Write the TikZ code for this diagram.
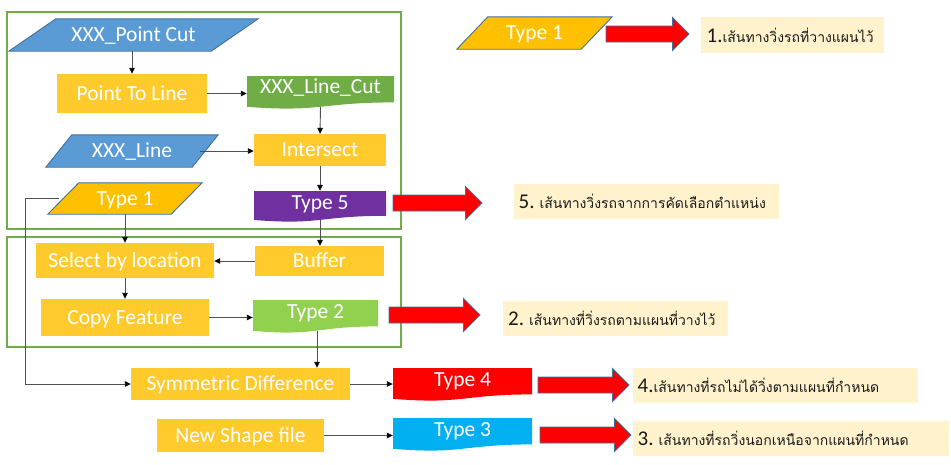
\documentclass[tikz,border=0pt]{standalone}
\usepackage{fontspec}
\setmainfont{Carlito}
\newfontfamily\thaifont[Script=Thai]{Loma}
\usetikzlibrary{calc,arrows.meta,backgrounds}

\definecolor{frameGreen}{HTML}{70AD47}
\definecolor{inBlue}{HTML}{5B9BD5}
\definecolor{edgeBlue}{HTML}{41719C}
\definecolor{procGold}{HTML}{FFCA2C}
\definecolor{typeGold}{HTML}{FFC000}
\definecolor{cutGreen}{HTML}{70AD47}
\definecolor{lightGreen}{HTML}{92D050}
\definecolor{typePurple}{HTML}{7030A0}
\definecolor{typeRed}{HTML}{FF0000}
\definecolor{typeCyan}{HTML}{00B0F0}
\definecolor{noteFill}{HTML}{FFF2CC}
\definecolor{noteText}{HTML}{1A1A1A}
\definecolor{wireGray}{HTML}{505050}

\tikzset{
  lbl/.style={inner sep=0pt, text=white, font=\fontsize{21.5}{24}\selectfont,
              text height=13.8pt, text depth=0pt},
  procbox/.style={lbl, fill=procGold},
  % flow-chart "document" shape: wavy lower edge, text raised by #2
  docbox/.style 2 args={lbl, text depth=#2,
    path picture={
      \fill[#1] let \p1=(path picture bounding box.south west),
                    \p2=(path picture bounding box.north east),
                    \n1={\y2-\y1}, \n2={(\x1+\x2)/2} in
        (\x1,\y2) -- (\x2,\y2) -- (\x2,{\y2-0.8*\n1})
        .. controls (\n2,{\y2-0.8*\n1}) and (\n2,{\y2-1.107*\n1}) ..
        (\x1,{\y2-0.934*\n1}) -- cycle;
    }},
  wire/.style={draw=wireGray, line width=0.9pt,
               -{Triangle[length=6pt,width=5.5pt,color=black,fill=black]}},
  notebox/.style={fill=noteFill, inner xsep=0pt, inner ysep=0pt, anchor=west,
                  align=left, text=noteText},
  frame/.style={draw=frameGreen, line width=2.8pt},
  bigarrow/.style={fill=typeRed, draw=edgeBlue, line width=0.9pt},
  paraedge/.style={draw=edgeBlue, line width=0.9pt}
}

% parallelogram behind a node: #1 style, #2 node name, #3 slant
\newcommand\paragram[3]{%
  \path[#1] (#2.south west) -- ($(#2.north west)+(#3,0)$) -- (#2.north east)
        -- ($(#2.south east)-(#3,0)$) -- cycle;}

% block arrow between two named coordinates on one horizontal line
\newcommand\blockarrow[2]{%
  \path[bigarrow] ($(#1)+(0,-8)$) -- ($(#2)+(-16.5,-8)$) -- ($(#2)+(-16.5,-16.5)$)
     -- (#2) -- ($(#2)+(-16.5,16.5)$) -- ($(#2)+(-16.5,8)$) -- ($(#1)+(0,8)$) -- cycle;}

\newcommand\notetext[2]{{\fontsize{21}{22}\selectfont #1}{\thaifont\fontsize{14}{22}\selectfont #2}}

\begin{document}
\begin{tikzpicture}[x=1pt, y=-1pt]
\useasboundingbox (0,0) rectangle (951,464);

% ---- process steps and data sets ----
\node[lbl, minimum width=249, minimum height=32] (pcut)  at (133.5,35)  {XXX\_Point Cut};
\node[procbox, minimum width=150, minimum height=39] (p2l) at (132,93.5) {Point To Line};
\node[docbox={cutGreen}{11pt}, minimum width=147, minimum height=33] (lcut) at (320.5,92.5) {XXX\_Line\_Cut};
\node[lbl, minimum width=172, minimum height=32] (xline) at (132,151) {XXX\_Line};
\node[procbox, minimum width=132, minimum height=32] (inter) at (320,150) {Intersect};
\node[lbl, minimum width=154, minimum height=31] (typeA) at (125,198.5) {Type 1};
\node[docbox={typePurple}{7pt}, minimum width=132, minimum height=31] (type5) at (320,206.5) {Type 5};
\node[procbox, minimum width=178, minimum height=35] (sel)  at (125,260.5) {Select by location};
\node[procbox, minimum width=129, minimum height=30] (buf)  at (319.5,261) {Buffer};
\node[procbox, minimum width=168, minimum height=37] (copy) at (125,317.5) {Copy Feature};
\node[docbox={lightGreen}{9pt}, minimum width=125, minimum height=33] (type2) at (315.5,316.5) {Type 2};
\node[procbox, minimum width=219, minimum height=32] (sym)  at (240.5,384) {Symmetric Difference};
\node[procbox, minimum width=167, minimum height=33] (nshp) at (240.5,435.5) {New Shape file};
\node[docbox={typeRed}{9pt}, minimum width=139, minimum height=33] (type4) at (462.5,384.5) {Type 4};
\node[docbox={typeCyan}{9pt}, minimum width=139, minimum height=33] (type3) at (462.5,434.5) {Type 3};
\node[lbl, minimum width=155, minimum height=32] (typeB) at (534.5,33) {Type 1};

\begin{scope}[on background layer]
  \paragram{fill=inBlue, paraedge}{pcut}{47}
  \paragram{fill=inBlue, paraedge}{xline}{26}
  \paragram{fill=typeGold, paraedge}{typeA}{31}
  \paragram{fill=typeGold, paraedge}{typeB}{31}
\end{scope}

% ---- group frames ----
\node[frame, minimum width=394, minimum height=217, inner sep=0pt] (grpA) at (204,120.5) {};
\node[frame, minimum width=394, minimum height=110, inner sep=0pt] (grpB) at (204,292) {};

% ---- legend notes ----
\node[notebox, minimum width=183, minimum height=36, text width=172pt, inner xsep=5.5pt] (n1) at (701,35) {\notetext{1.}{เส้นทางวิ่งรถที่วางแผนไว้}};
\node[notebox, minimum width=265, minimum height=35, text width=256pt, inner xsep=4.5pt] (n5) at (514,201.5) {\notetext{5. }{เส้นทางวิ่งรถจากการคัดเลือกตำแหน่ง}};
\node[notebox, minimum width=225, minimum height=35, text width=215pt, inner xsep=5pt] (n2) at (503,318.5) {\notetext{2. }{เส้นทางที่วิ่งรถตามแผนที่วางไว้}};
\node[notebox, minimum width=285, minimum height=35, text width=276pt, inner xsep=4.5pt] (n4) at (633,385.5) {\notetext{4.}{เส้นทางที่รถไม่ได้วิ่งตามแผนที่กำหนด}};
\node[notebox, minimum width=316, minimum height=35, text width=307pt, inner xsep=4.5pt] (n3) at (633,438.5) {\notetext{3. }{เส้นทางที่รถวิ่งนอกเหนือจากแผนที่กำหนด}};

% ---- block arrows from each type to its note ----
\coordinate (a1s) at (606,34);  \coordinate (a1e) at (689,34);
\coordinate (a5s) at (393,203); \coordinate (a5e) at (482,203);
\coordinate (a2s) at (389,315); \coordinate (a2e) at (480,315);
\coordinate (a4s) at (538,385); \coordinate (a4e) at (629,385);
\coordinate (a3s) at (540,435); \coordinate (a3e) at (631,435);
\blockarrow{a1s}{a1e}
\blockarrow{a5s}{a5e}
\blockarrow{a2s}{a2e}
\blockarrow{a4s}{a4e}
\blockarrow{a3s}{a3e}

% ---- flow connectors ----
\draw[wire] (p2l.north |- pcut.south) -- (p2l.north);
\draw[wire] (p2l.east) -- (p2l.east -| lcut.west);
\draw[wire] ($(lcut.south)+(0,-2)$) -- (inter.north);
\draw[wire] ($(xline.east)+(-18,0)$) -- (xline.east -| inter.west);
\draw[wire] (inter.south) -- (type5.north);
\draw[wire] ($(typeA.west)+(11,0)$) -- ++(-33,0) |- (sym.west);
\draw[wire] (typeA.south) -- (sel.north);
\draw[wire] ($(type5.south)+(0,-2)$) -- (buf.north -| type5.south);
\draw[wire] (buf.west) -- (buf.west -| sel.east);
\draw[wire] (sel.south) -- (copy.north);
\draw[wire] (copy.east) -- (copy.east -| type2.west);
\draw[wire] ($(type2.south)+(1.5,-2)$) -- ($(type2.south |- sym.north)+(1.5,0)$);
\draw[wire] (sym.east) -- (sym.east -| type4.west);
\draw[wire] (nshp.east) -- (nshp.east -| type3.west);
\end{tikzpicture}
\end{document}
